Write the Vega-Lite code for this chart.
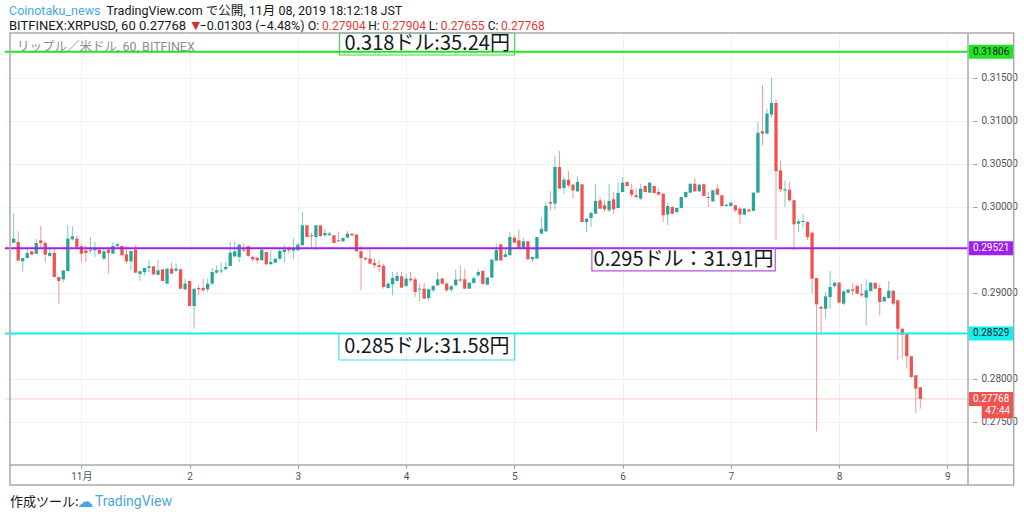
{
"$schema": "https://vega.github.io/schema/vega-lite/v6.json",
"width": 968, "height": 432,
"autosize": {"type": "none"},
"padding": {"left": 5, "top": 33, "right": 51, "bottom": 49},
"background": "white",
"config": {"view": {"stroke": null}, "font": "Roboto"},
"datasets": {
"ohlc": [
{"h":-15,"o":0.29585,"hi":0.29922,"lo":0.29585,"c":0.29632},
{"h":-14,"o":0.29593,"hi":0.29717,"lo":0.29376,"c":0.29376},
{"h":-13,"o":0.29368,"hi":0.29407,"lo":0.29252,"c":0.29407},
{"h":-12,"o":0.29407,"hi":0.29527,"lo":0.29407,"c":0.29465},
{"h":-11,"o":0.29484,"hi":0.29496,"lo":0.29446,"c":0.29446},
{"h":-10,"o":0.29457,"hi":0.29632,"lo":0.29457,"c":0.29581},
{"h":-9,"o":0.29612,"hi":0.29779,"lo":0.29515,"c":0.29581},
{"h":-8,"o":0.29581,"hi":0.29601,"lo":0.2936,"c":0.29446},
{"h":-7,"o":0.29431,"hi":0.29515,"lo":0.29419,"c":0.29465},
{"h":-6,"o":0.29465,"hi":0.29515,"lo":0.29186,"c":0.29186},
{"h":-5,"o":0.29186,"hi":0.29186,"lo":0.28876,"c":0.2914},
{"h":-4,"o":0.29159,"hi":0.29263,"lo":0.29128,"c":0.29263},
{"h":-3,"o":0.29256,"hi":0.29787,"lo":0.29256,"c":0.29632},
{"h":-2,"o":0.29624,"hi":0.29779,"lo":0.29612,"c":0.29659},
{"h":-1,"o":0.29632,"hi":0.29671,"lo":0.29515,"c":0.29535},
{"h":0,"o":0.29543,"hi":0.29574,"lo":0.2936,"c":0.29457},
{"h":1,"o":0.29496,"hi":0.29554,"lo":0.2936,"c":0.29465},
{"h":2,"o":0.29492,"hi":0.29651,"lo":0.29457,"c":0.29504},
{"h":3,"o":0.29496,"hi":0.29593,"lo":0.29419,"c":0.29515},
{"h":4,"o":0.29504,"hi":0.29535,"lo":0.29457,"c":0.29457},
{"h":5,"o":0.29399,"hi":0.29515,"lo":0.2938,"c":0.29484},
{"h":6,"o":0.29504,"hi":0.29535,"lo":0.29225,"c":0.29465},
{"h":7,"o":0.29457,"hi":0.29593,"lo":0.29457,"c":0.29547},
{"h":8,"o":0.29547,"hi":0.29581,"lo":0.29535,"c":0.29566},
{"h":9,"o":0.29547,"hi":0.29554,"lo":0.29438,"c":0.29438},
{"h":10,"o":0.2945,"hi":0.29554,"lo":0.29341,"c":0.29368},
{"h":11,"o":0.29368,"hi":0.29496,"lo":0.29263,"c":0.29488},
{"h":12,"o":0.29504,"hi":0.29554,"lo":0.29236,"c":0.29236},
{"h":13,"o":0.29221,"hi":0.29263,"lo":0.2914,"c":0.29252},
{"h":14,"o":0.29244,"hi":0.29291,"lo":0.29205,"c":0.29291},
{"h":15,"o":0.29291,"hi":0.2938,"lo":0.29244,"c":0.2931},
{"h":16,"o":0.2931,"hi":0.2931,"lo":0.29205,"c":0.29217},
{"h":17,"o":0.29213,"hi":0.2938,"lo":0.29205,"c":0.29263},
{"h":18,"o":0.29275,"hi":0.29275,"lo":0.2914,"c":0.2914},
{"h":19,"o":0.29109,"hi":0.29283,"lo":0.29109,"c":0.29283},
{"h":20,"o":0.29283,"hi":0.29353,"lo":0.29225,"c":0.29225},
{"h":21,"o":0.2926,"hi":0.29341,"lo":0.29244,"c":0.29283},
{"h":22,"o":0.29275,"hi":0.29283,"lo":0.2905,"c":0.2905},
{"h":23,"o":0.29043,"hi":0.29167,"lo":0.29031,"c":0.29109},
{"h":24,"o":0.2914,"hi":0.2914,"lo":0.28849,"c":0.28849},
{"h":25,"o":0.28849,"hi":0.2905,"lo":0.28585,"c":0.2905},
{"h":26,"o":0.29058,"hi":0.29089,"lo":0.28973,"c":0.29043},
{"h":27,"o":0.29058,"hi":0.29167,"lo":0.29012,"c":0.29031},
{"h":28,"o":0.29043,"hi":0.29167,"lo":0.29012,"c":0.29109},
{"h":29,"o":0.29109,"hi":0.29291,"lo":0.29089,"c":0.29244},
{"h":30,"o":0.29236,"hi":0.29322,"lo":0.29225,"c":0.29263},
{"h":31,"o":0.29252,"hi":0.29353,"lo":0.29225,"c":0.29263},
{"h":32,"o":0.29275,"hi":0.2936,"lo":0.29275,"c":0.29302},
{"h":33,"o":0.29314,"hi":0.29593,"lo":0.29314,"c":0.29469},
{"h":34,"o":0.29427,"hi":0.29593,"lo":0.29407,"c":0.29484},
{"h":35,"o":0.29419,"hi":0.29574,"lo":0.2936,"c":0.29562},
{"h":36,"o":0.29504,"hi":0.29574,"lo":0.29477,"c":0.29492},
{"h":37,"o":0.29543,"hi":0.29554,"lo":0.29419,"c":0.29431},
{"h":38,"o":0.29419,"hi":0.29431,"lo":0.2936,"c":0.29392},
{"h":39,"o":0.29407,"hi":0.29419,"lo":0.29341,"c":0.2938},
{"h":40,"o":0.2938,"hi":0.29504,"lo":0.2938,"c":0.29504},
{"h":41,"o":0.29477,"hi":0.29477,"lo":0.29322,"c":0.29334},
{"h":42,"o":0.29334,"hi":0.29496,"lo":0.29334,"c":0.2936},
{"h":43,"o":0.29353,"hi":0.29399,"lo":0.29353,"c":0.29399},
{"h":44,"o":0.29399,"hi":0.29535,"lo":0.2938,"c":0.29488},
{"h":45,"o":0.29477,"hi":0.29562,"lo":0.29353,"c":0.29504},
{"h":46,"o":0.29515,"hi":0.29535,"lo":0.29457,"c":0.29496},
{"h":47,"o":0.29492,"hi":0.2964,"lo":0.29392,"c":0.29515},
{"h":48,"o":0.29496,"hi":0.29581,"lo":0.29496,"c":0.29562},
{"h":49,"o":0.29554,"hi":0.29942,"lo":0.29554,"c":0.29787},
{"h":50,"o":0.29787,"hi":0.29787,"lo":0.29651,"c":0.29651},
{"h":51,"o":0.29671,"hi":0.29702,"lo":0.29524,"c":0.29659},
{"h":52,"o":0.29651,"hi":0.29787,"lo":0.29496,"c":0.29787},
{"h":53,"o":0.29787,"hi":0.29787,"lo":0.29651,"c":0.29663},
{"h":54,"o":0.29671,"hi":0.29748,"lo":0.29651,"c":0.29698},
{"h":55,"o":0.29671,"hi":0.2971,"lo":0.29671,"c":0.2969},
{"h":56,"o":0.29671,"hi":0.29671,"lo":0.29581,"c":0.29581},
{"h":57,"o":0.29612,"hi":0.2971,"lo":0.29593,"c":0.29601},
{"h":58,"o":0.29601,"hi":0.2964,"lo":0.29593,"c":0.2964},
{"h":59,"o":0.29644,"hi":0.29721,"lo":0.29632,"c":0.2969},
{"h":60,"o":0.2969,"hi":0.2969,"lo":0.29663,"c":0.29671},
{"h":61,"o":0.29679,"hi":0.29679,"lo":0.29484,"c":0.29484},
{"h":62,"o":0.29484,"hi":0.29554,"lo":0.29031,"c":0.29407},
{"h":63,"o":0.29407,"hi":0.29419,"lo":0.2938,"c":0.29392},
{"h":64,"o":0.29399,"hi":0.29535,"lo":0.29341,"c":0.29341},
{"h":65,"o":0.29349,"hi":0.29399,"lo":0.29291,"c":0.29322},
{"h":66,"o":0.29322,"hi":0.29376,"lo":0.29244,"c":0.29302},
{"h":67,"o":0.29314,"hi":0.29341,"lo":0.2905,"c":0.2907},
{"h":68,"o":0.29058,"hi":0.29128,"lo":0.2905,"c":0.29109},
{"h":69,"o":0.29101,"hi":0.29244,"lo":0.28973,"c":0.29175},
{"h":70,"o":0.2914,"hi":0.29244,"lo":0.2914,"c":0.29198},
{"h":71,"o":0.29194,"hi":0.29244,"lo":0.29062,"c":0.29062},
{"h":72,"o":0.29082,"hi":0.29225,"lo":0.2907,"c":0.29167},
{"h":73,"o":0.29167,"hi":0.29244,"lo":0.29128,"c":0.29148},
{"h":74,"o":0.29159,"hi":0.29186,"lo":0.28954,"c":0.29012},
{"h":75,"o":0.29039,"hi":0.29109,"lo":0.28903,"c":0.2905},
{"h":76,"o":0.2905,"hi":0.29116,"lo":0.28934,"c":0.28934},
{"h":77,"o":0.28942,"hi":0.2905,"lo":0.28915,"c":0.29043},
{"h":78,"o":0.29031,"hi":0.29089,"lo":0.29012,"c":0.29082},
{"h":79,"o":0.29089,"hi":0.29244,"lo":0.29089,"c":0.29159},
{"h":80,"o":0.29167,"hi":0.29186,"lo":0.29089,"c":0.29109},
{"h":81,"o":0.29109,"hi":0.29128,"lo":0.29012,"c":0.29031},
{"h":82,"o":0.29039,"hi":0.29097,"lo":0.29012,"c":0.29078},
{"h":83,"o":0.29089,"hi":0.29271,"lo":0.29082,"c":0.29155},
{"h":84,"o":0.29159,"hi":0.29322,"lo":0.29128,"c":0.29144},
{"h":85,"o":0.29159,"hi":0.29283,"lo":0.2905,"c":0.2905},
{"h":86,"o":0.2905,"hi":0.2912,"lo":0.2905,"c":0.2912},
{"h":87,"o":0.29116,"hi":0.29194,"lo":0.29109,"c":0.29171},
{"h":88,"o":0.29206,"hi":0.29275,"lo":0.29186,"c":0.29244},
{"h":89,"o":0.29256,"hi":0.29263,"lo":0.29097,"c":0.29105},
{"h":90,"o":0.29097,"hi":0.29179,"lo":0.29097,"c":0.29179},
{"h":91,"o":0.29179,"hi":0.29388,"lo":0.29179,"c":0.29388},
{"h":92,"o":0.29376,"hi":0.29574,"lo":0.29376,"c":0.295},
{"h":93,"o":0.29565,"hi":0.2957,"lo":0.29376,"c":0.29378},
{"h":94,"o":0.2942,"hi":0.2951,"lo":0.29407,"c":0.2945},
{"h":95,"o":0.29438,"hi":0.29709,"lo":0.29438,"c":0.29651},
{"h":96,"o":0.29643,"hi":0.29671,"lo":0.29585,"c":0.29585},
{"h":97,"o":0.29612,"hi":0.29736,"lo":0.29515,"c":0.29515},
{"h":98,"o":0.29527,"hi":0.2964,"lo":0.29527,"c":0.29601},
{"h":99,"o":0.29601,"hi":0.29601,"lo":0.29391,"c":0.29391},
{"h":100,"o":0.29391,"hi":0.29419,"lo":0.2936,"c":0.29419},
{"h":101,"o":0.29399,"hi":0.29651,"lo":0.29399,"c":0.29651},
{"h":102,"o":0.2969,"hi":0.29884,"lo":0.2969,"c":0.29745},
{"h":103,"o":0.29717,"hi":0.30058,"lo":0.29709,"c":0.30012},
{"h":104,"o":0.30058,"hi":0.30182,"lo":0.29961,"c":0.30039},
{"h":105,"o":0.30039,"hi":0.30593,"lo":0.29973,"c":0.30465},
{"h":106,"o":0.30465,"hi":0.30651,"lo":0.30213,"c":0.30213},
{"h":107,"o":0.30221,"hi":0.30349,"lo":0.30155,"c":0.30318},
{"h":108,"o":0.30318,"hi":0.30415,"lo":0.30233,"c":0.30252},
{"h":109,"o":0.3026,"hi":0.30264,"lo":0.30097,"c":0.30194},
{"h":110,"o":0.30182,"hi":0.30357,"lo":0.30174,"c":0.30291},
{"h":111,"o":0.30264,"hi":0.30264,"lo":0.29826,"c":0.29826},
{"h":112,"o":0.29826,"hi":0.29864,"lo":0.29709,"c":0.29864},
{"h":113,"o":0.29872,"hi":0.29942,"lo":0.29767,"c":0.2993},
{"h":114,"o":0.29922,"hi":0.30271,"lo":0.29922,"c":0.3007},
{"h":115,"o":0.30077,"hi":0.30116,"lo":0.29973,"c":0.29981},
{"h":116,"o":0.30019,"hi":0.30077,"lo":0.29942,"c":0.29973},
{"h":117,"o":0.29961,"hi":0.30271,"lo":0.29942,"c":0.3007},
{"h":118,"o":0.30089,"hi":0.30174,"lo":0.29922,"c":0.29973},
{"h":119,"o":0.29988,"hi":0.30291,"lo":0.29981,"c":0.30163},
{"h":120,"o":0.30174,"hi":0.30349,"lo":0.30174,"c":0.30283},
{"h":121,"o":0.30291,"hi":0.30291,"lo":0.30244,"c":0.30244},
{"h":122,"o":0.30202,"hi":0.30271,"lo":0.30116,"c":0.30143},
{"h":123,"o":0.30136,"hi":0.30221,"lo":0.30097,"c":0.30116},
{"h":124,"o":0.30097,"hi":0.30271,"lo":0.30077,"c":0.30213},
{"h":125,"o":0.30244,"hi":0.30252,"lo":0.30167,"c":0.30174},
{"h":126,"o":0.30167,"hi":0.30291,"lo":0.30163,"c":0.30283},
{"h":127,"o":0.30244,"hi":0.30252,"lo":0.30155,"c":0.30163},
{"h":128,"o":0.30174,"hi":0.30213,"lo":0.30136,"c":0.30143},
{"h":129,"o":0.30155,"hi":0.30155,"lo":0.29826,"c":0.29903},
{"h":130,"o":0.29911,"hi":0.30046,"lo":0.29787,"c":0.30012},
{"h":131,"o":0.3,"hi":0.30012,"lo":0.29911,"c":0.29922},
{"h":132,"o":0.29942,"hi":0.29995,"lo":0.2993,"c":0.29988},
{"h":133,"o":0.29988,"hi":0.30116,"lo":0.29981,"c":0.30116},
{"h":134,"o":0.30116,"hi":0.30182,"lo":0.30105,"c":0.30174},
{"h":135,"o":0.30167,"hi":0.30271,"lo":0.30163,"c":0.30271},
{"h":136,"o":0.30271,"hi":0.30337,"lo":0.30174,"c":0.30182},
{"h":137,"o":0.30182,"hi":0.30271,"lo":0.30174,"c":0.3026},
{"h":138,"o":0.30264,"hi":0.30271,"lo":0.30128,"c":0.30128},
{"h":139,"o":0.30116,"hi":0.30174,"lo":0.3,"c":0.30105},
{"h":140,"o":0.30066,"hi":0.30194,"lo":0.30058,"c":0.30194},
{"h":141,"o":0.30213,"hi":0.3026,"lo":0.30136,"c":0.30143},
{"h":142,"o":0.30136,"hi":0.30143,"lo":0.3,"c":0.30012},
{"h":143,"o":0.30012,"hi":0.30035,"lo":0.3,"c":0.30027},
{"h":144,"o":0.30012,"hi":0.30058,"lo":0.3,"c":0.3005},
{"h":145,"o":0.30019,"hi":0.30027,"lo":0.29942,"c":0.29961},
{"h":146,"o":0.29981,"hi":0.3,"lo":0.29806,"c":0.29911},
{"h":147,"o":0.29911,"hi":0.29988,"lo":0.29903,"c":0.29981},
{"h":148,"o":0.29969,"hi":0.29981,"lo":0.29942,"c":0.2995},
{"h":149,"o":0.29953,"hi":0.3017,"lo":0.29953,"c":0.30167},
{"h":150,"o":0.30167,"hi":0.30988,"lo":0.30167,"c":0.30864},
{"h":151,"o":0.3088,"hi":0.31415,"lo":0.30717,"c":0.30853},
{"h":152,"o":0.30853,"hi":0.31143,"lo":0.30853,"c":0.31085},
{"h":153,"o":0.31074,"hi":0.315,"lo":0.31035,"c":0.31209},
{"h":154,"o":0.31209,"hi":0.31248,"lo":0.29612,"c":0.30415},
{"h":155,"o":0.30426,"hi":0.30535,"lo":0.30174,"c":0.30205},
{"h":156,"o":0.3019,"hi":0.3031,"lo":0.3,"c":0.30205},
{"h":157,"o":0.30201,"hi":0.30291,"lo":0.30058,"c":0.30078},
{"h":158,"o":0.30078,"hi":0.30078,"lo":0.29496,"c":0.29798},
{"h":159,"o":0.29806,"hi":0.29864,"lo":0.29709,"c":0.29833},
{"h":160,"o":0.29826,"hi":0.29922,"lo":0.29748,"c":0.29837},
{"h":161,"o":0.29826,"hi":0.29833,"lo":0.29612,"c":0.29651},
{"h":162,"o":0.29702,"hi":0.29702,"lo":0.28992,"c":0.29167},
{"h":163,"o":0.29174,"hi":0.29174,"lo":0.27391,"c":0.28868},
{"h":164,"o":0.28837,"hi":0.28857,"lo":0.28527,"c":0.28818},
{"h":165,"o":0.28818,"hi":0.29012,"lo":0.28702,"c":0.28961},
{"h":166,"o":0.28953,"hi":0.29256,"lo":0.28818,"c":0.2907},
{"h":167,"o":0.29081,"hi":0.29128,"lo":0.2905,"c":0.2912},
{"h":168,"o":0.2912,"hi":0.29128,"lo":0.28876,"c":0.28888},
{"h":169,"o":0.28876,"hi":0.29031,"lo":0.28857,"c":0.29019},
{"h":170,"o":0.29004,"hi":0.2905,"lo":0.28996,"c":0.29039},
{"h":171,"o":0.29043,"hi":0.29116,"lo":0.28973,"c":0.29027},
{"h":172,"o":0.29081,"hi":0.29101,"lo":0.28984,"c":0.28992},
{"h":173,"o":0.28992,"hi":0.29109,"lo":0.28954,"c":0.28973},
{"h":174,"o":0.28946,"hi":0.29159,"lo":0.28624,"c":0.29031},
{"h":175,"o":0.29023,"hi":0.29128,"lo":0.29012,"c":0.2912},
{"h":176,"o":0.29116,"hi":0.29128,"lo":0.29043,"c":0.2905},
{"h":177,"o":0.29058,"hi":0.29109,"lo":0.2874,"c":0.28895},
{"h":178,"o":0.28903,"hi":0.28965,"lo":0.28895,"c":0.28953},
{"h":179,"o":0.28942,"hi":0.2914,"lo":0.28934,"c":0.29027},
{"h":180,"o":0.29027,"hi":0.29027,"lo":0.28857,"c":0.28876},
{"h":181,"o":0.28915,"hi":0.28915,"lo":0.28217,"c":0.28585},
{"h":182,"o":0.28585,"hi":0.28585,"lo":0.28236,"c":0.28515},
{"h":183,"o":0.28535,"hi":0.28535,"lo":0.2812,"c":0.28264},
{"h":184,"o":0.28264,"hi":0.28264,"lo":0.28004,"c":0.28023},
{"h":185,"o":0.28043,"hi":0.28043,"lo":0.27605,"c":0.27888},
{"h":186,"o":0.27904,"hi":0.27904,"lo":0.27655,"c":0.27768}
],
"levels": [
{"name":"g","price":0.31806},
{"name":"p","price":0.29521},
{"name":"c","price":0.28529},
{"name":"last","price":0.27768}
]
},
"layer": [
{
"data": {"name": "ohlc"},
"mark": {"type": "rule", "strokeWidth": 1, "opacity": 0.6},
"encoding": {
"x": {"field": "h", "type": "quantitative", "scale": {"domain": [-15.82, 196.57], "nice": false, "zero": false},
"axis": {"values": [0,24,48,72,96,120,144,168,192], "labelExpr": "datum.value == 0 ? '11月' : '' + (datum.value/24 + 1)", "title": null, "domain": false, "ticks": true, "tickSize": 3, "tickColor": "#9598a1", "labelPadding": 3, "labelFontSize": 10, "labelColor": "#50535e", "labelFont": "Roboto, 'Noto Sans CJK JP'", "grid": true, "gridColor": "#eef1f6"}},
"y": {"field": "lo", "type": "quantitative", "scale": {"domain": [0.27, 0.32023], "nice": false, "zero": false},
"axis": {"orient": "right", "values": [0.275,0.28,0.29,0.3,0.305,0.31,0.315], "format": ".5f", "title": null, "domain": false, "ticks": true, "tickSize": 4, "tickColor": "#9598a1", "labelPadding": 4, "labelFontSize": 10, "labelColor": "#50535e", "labelFont": "Roboto", "grid": true, "gridColor": "#eef1f6"}},
"y2": {"field": "hi"},
"color": {"condition": {"test": "datum.c >= datum.o", "value": "#26a69a"}, "value": "#ef5350"}
}
},
{
"data": {"name": "ohlc"},
"mark": {"type": "bar", "width": 3.3},
"encoding": {
"x": {"field": "h", "type": "quantitative"},
"y": {"field": "o", "type": "quantitative"},
"y2": {"field": "c"},
"color": {"condition": {"test": "datum.c >= datum.o", "value": "#26a69a"}, "value": "#ef5350"}
}
},
{
"data": {"name": "levels"},
"transform": [{"filter": "datum.name != 'last'"}],
"mark": {"type": "rule", "strokeWidth": 2},
"encoding": {
"y": {"field": "price", "type": "quantitative"},
"color": {"field": "name", "type": "nominal", "scale": {"domain": ["g","p","c","last"], "range": ["#1ee61e","#a020f0","#12f0f0","#ef5350"]}, "legend": null}
}
},
{
"data": {"name": "levels"},
"transform": [{"filter": "datum.name == 'last'"}],
"mark": {"type": "rule", "strokeWidth": 1, "color": "#ef5350", "opacity": 0.3},
"encoding": {
"y": {"field": "price", "type": "quantitative"}
}
},
{
"data": {"name": "levels"},
"mark": {"type": "rule", "strokeWidth": 14, "strokeCap": "butt"},
"encoding": {
"x": {"datum": 196.7},
"x2": {"datum": 206.7},
"y": {"field": "price", "type": "quantitative"},
"color": {"field": "name", "type": "nominal", "legend": null}
}
},
{
"data": {"name": "levels"},
"mark": {"type": "text", "fontSize": 10, "font": "Roboto", "align": "center", "baseline": "middle"},
"encoding": {
"x": {"datum": 201.7},
"y": {"field": "price", "type": "quantitative"},
"text": {"field": "price", "type": "quantitative", "format": ".5f"},
"color": {"condition": {"test": "datum.name == 'p' || datum.name == 'last'", "value": "#ffffff"}, "value": "#131722"}
}
},
{
"data": {"values": [{}]},
"mark": {"type": "rule", "strokeWidth": 14, "strokeCap": "butt", "color": "#ef5350"},
"encoding": {"x": {"datum": 199.6}, "x2": {"datum": 206.7}, "y": {"datum": 0.27626}}
},
{
"data": {"values": [{}]},
"mark": {"type": "text", "text": "47:44", "fontSize": 10, "font": "Roboto", "align": "center", "baseline": "middle", "color": "#ffffff"},
"encoding": {"x": {"datum": 203.15}, "y": {"datum": 0.27626}}
},
{
"data": {"values": [{}]},
"mark": {"type": "rect", "filled": false, "stroke": "#3ad83a", "strokeWidth": 1.2},
"encoding": {"x": {"datum": 57.24}, "x2": {"datum": 96.08}, "y": {"datum": 0.31767}, "y2": {"datum": 0.32023}}
},
{
"data": {"values": [{}]},
"mark": {"type": "text", "text": "0.318ドル:35.24円", "fontSize": 20, "font": "Noto Sans CJK JP", "align": "center", "baseline": "middle", "color": "#131722"},
"encoding": {"x": {"datum": 76.66}, "y": {"datum": 0.31895}}
},
{
"data": {"values": [{}]},
"mark": {"type": "rect", "filled": false, "stroke": "#b455e0", "strokeWidth": 1.2},
"encoding": {"x": {"datum": 113.18}, "x2": {"datum": 153.84}, "y": {"datum": 0.29256}, "y2": {"datum": 0.29523}}
},
{
"data": {"values": [{}]},
"mark": {"type": "text", "text": "0.295ドル：31.91円", "fontSize": 20, "font": "Noto Sans CJK JP", "align": "center", "baseline": "middle", "color": "#131722"},
"encoding": {"x": {"datum": 133.5}, "y": {"datum": 0.29389}}
},
{
"data": {"values": [{}]},
"mark": {"type": "rect", "filled": false, "stroke": "#3ee0e6", "strokeWidth": 1.2},
"encoding": {"x": {"datum": 57.09}, "x2": {"datum": 96.08}, "y": {"datum": 0.28221}, "y2": {"datum": 0.28529}}
},
{
"data": {"values": [{}]},
"mark": {"type": "text", "text": "0.285ドル:31.58円", "fontSize": 20, "font": "Noto Sans CJK JP", "align": "center", "baseline": "middle", "color": "#131722"},
"encoding": {"x": {"datum": 76.6}, "y": {"datum": 0.28372}}
},
{
"data": {"values": [{}]},
"mark": {"type": "text", "text": "リップル／米ドル, 60, BITFINEX", "fontSize": 12.5, "font": "Roboto, 'Noto Sans CJK JP'", "align": "left", "baseline": "middle", "color": "#8a8e97"},
"encoding": {"x": {"datum": -14.28}, "y": {"datum": 0.3186}}
},
{
"data": {"values": [{}]},
"mark": {"type": "text", "text": "Coinotaku_news", "fontSize": 12.5, "font": "Roboto", "align": "left", "baseline": "middle", "color": "#4aa8e0"},
"encoding": {"x": {"datum": -16.04}, "y": {"datum": 0.32279}}
},
{
"data": {"values": [{}]},
"mark": {"type": "text", "text": "TradingView.com で公開, 11月 08, 2019 18:12:18 JST", "fontSize": 12.5, "font": "Roboto, 'Noto Sans CJK JP'", "align": "left", "baseline": "middle", "color": "#131722"},
"encoding": {"x": {"datum": 5.6}, "y": {"datum": 0.32279}}
},
{
"data": {"values": [{}]},
"mark": {"type": "text", "text": "BITFINEX:XRPUSD, 60 0.27768", "fontSize": 13, "font": "Roboto", "align": "left", "baseline": "middle", "color": "#131722"},
"encoding": {"x": {"datum": -16.04}, "y": {"datum": 0.32104}}
},
{
"data": {"values": [{}]},
"mark": {"type": "text", "text": "▼", "fontSize": 11, "font": "DejaVu Sans", "align": "left", "baseline": "middle", "color": "#d32f2f"},
"encoding": {"x": {"datum": 24.4}, "y": {"datum": 0.32104}}
},
{
"data": {"values": [{}]},
"mark": {"type": "text", "text": "−0.01303 (−4.48%) O:", "fontSize": 12.5, "font": "Roboto", "align": "right", "baseline": "middle", "color": "#131722"},
"encoding": {"x": {"datum": 52.75}, "y": {"datum": 0.32104}}
},
{
"data": {"values": [{}]},
"mark": {"type": "text", "text": "0.27904", "fontSize": 12, "font": "Roboto", "align": "left", "baseline": "middle", "color": "#e53935"},
"encoding": {"x": {"datum": 53.35}, "y": {"datum": 0.32104}}
},
{
"data": {"values": [{}]},
"mark": {"type": "text", "text": "H:", "fontSize": 12, "font": "Roboto", "align": "right", "baseline": "middle", "color": "#131722"},
"encoding": {"x": {"datum": 66.13}, "y": {"datum": 0.32104}}
},
{
"data": {"values": [{}]},
"mark": {"type": "text", "text": "0.27904", "fontSize": 12, "font": "Roboto", "align": "left", "baseline": "middle", "color": "#e53935"},
"encoding": {"x": {"datum": 66.73}, "y": {"datum": 0.32104}}
},
{
"data": {"values": [{}]},
"mark": {"type": "text", "text": "L:", "fontSize": 12, "font": "Roboto", "align": "right", "baseline": "middle", "color": "#131722"},
"encoding": {"x": {"datum": 79.08}, "y": {"datum": 0.32104}}
},
{
"data": {"values": [{}]},
"mark": {"type": "text", "text": "0.27655", "fontSize": 12, "font": "Roboto", "align": "left", "baseline": "middle", "color": "#e53935"},
"encoding": {"x": {"datum": 79.68}, "y": {"datum": 0.32104}}
},
{
"data": {"values": [{}]},
"mark": {"type": "text", "text": "C:", "fontSize": 12, "font": "Roboto", "align": "right", "baseline": "middle", "color": "#131722"},
"encoding": {"x": {"datum": 92.46}, "y": {"datum": 0.32104}}
},
{
"data": {"values": [{}]},
"mark": {"type": "text", "text": "0.27768", "fontSize": 12, "font": "Roboto", "align": "left", "baseline": "middle", "color": "#e53935"},
"encoding": {"x": {"datum": 93.06}, "y": {"datum": 0.32104}}
},
{
"data": {"values": [{}]},
"mark": {"type": "text", "text": "作成ツール:", "fontSize": 13, "font": "Noto Sans CJK JP", "align": "left", "baseline": "middle", "color": "#131722"},
"encoding": {"x": {"datum": -15.82}, "y": {"datum": 0.2657}}
},
{
"data": {"values": [{}]},
"mark": {"type": "text", "text": "☁", "fontSize": 16, "font": "DejaVu Sans", "align": "left", "baseline": "middle", "color": "#4aa8e0"},
"encoding": {"x": {"datum": -0.9}, "y": {"datum": 0.2657}}
},
{
"data": {"values": [{}]},
"mark": {"type": "text", "text": "TradingView", "fontSize": 14, "font": "Roboto", "align": "left", "baseline": "middle", "color": "#4aa8e0"},
"encoding": {"x": {"datum": 3.0}, "y": {"datum": 0.2657}}
},
{
"data": {"values": [{}]},
"mark": {"type": "rect", "filled": false, "stroke": "#a8aab0", "strokeWidth": 1.5},
"encoding": {"x": {"datum": -15.82}, "x2": {"datum": 206.7}, "y": {"datum": 0.26767}, "y2": {"datum": 0.32023}}
},
{
"data": {"values": [{}]},
"mark": {"type": "rule", "stroke": "#a8aab0", "strokeWidth": 1.5},
"encoding": {"x": {"datum": -15.82}, "x2": {"datum": 206.7}, "y": {"datum": 0.27}}
},
{
"data": {"values": [{}]},
"mark": {"type": "rule", "stroke": "#a8aab0", "strokeWidth": 1.5},
"encoding": {"x": {"datum": 196.57}, "y": {"datum": 0.26767}, "y2": {"datum": 0.32023}}
}
]
}
